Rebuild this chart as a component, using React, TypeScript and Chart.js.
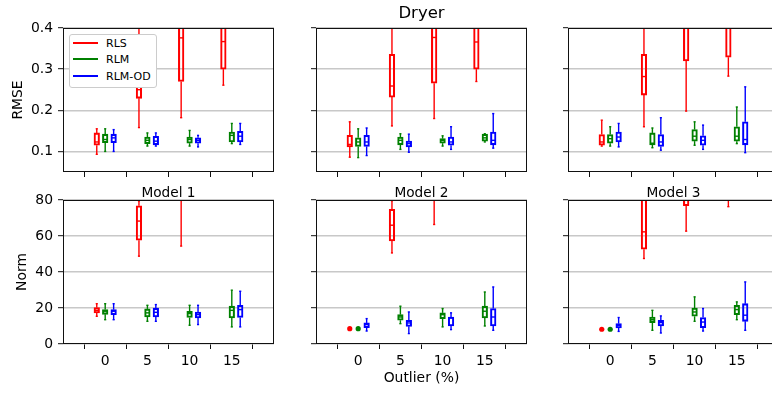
import React, { useEffect, useRef } from 'react';
import { Chart, registerables } from 'chart.js';

Chart.register(...registerables);

// ---------- data ----------
const outliers = [0, 5, 10, 15];
const xTickLabels = ['0', '5', '10', '15'];
const methods = ['RLS', 'RLM', 'RLM-OD'];
const methodColors = ['#ff0000', '#008000', '#0000ff'];
const methodOffsets = [-1, 0, 1];
const modelTitles = ['Model 1', 'Model 2', 'Model 3'];

const rmseTicks = [0.1, 0.2, 0.3, 0.4];
const rmseTickLabels = ['0.1', '0.2', '0.3', '0.4'];
const normTicks = [0, 20, 40, 60, 80];
const normTickLabels = ['0', '20', '40', '60', '80'];

// each entry: [whisker low, Q1, median, Q3, whisker high] for outlier 0, 5, 10, 15
const rmseM1RLS = [[0.093, 0.115, 0.123, 0.145, 0.155], [0.158, 0.229, 0.250, 0.330, 0.470], [0.182, 0.270, 0.376, 0.450, 0.600], [0.261, 0.300, 0.367, 0.430, 0.550]];
const rmseM1RLM = [[0.100, 0.121, 0.129, 0.142, 0.155], [0.113, 0.119, 0.127, 0.135, 0.145], [0.113, 0.120, 0.129, 0.135, 0.151], [0.119, 0.123, 0.139, 0.147, 0.168]];
const rmseM1RLMOD = [[0.100, 0.121, 0.133, 0.142, 0.153], [0.113, 0.116, 0.125, 0.137, 0.145], [0.111, 0.120, 0.127, 0.133, 0.139], [0.117, 0.123, 0.137, 0.149, 0.168]];

const rmseM2RLS = [[0.086, 0.111, 0.117, 0.139, 0.172], [0.162, 0.232, 0.259, 0.336, 0.470], [0.180, 0.266, 0.377, 0.450, 0.600], [0.270, 0.300, 0.366, 0.430, 0.550]];
const rmseM2RLM = [[0.085, 0.112, 0.123, 0.133, 0.155], [0.105, 0.116, 0.127, 0.135, 0.143], [0.113, 0.120, 0.127, 0.131, 0.138], [0.123, 0.125, 0.133, 0.142, 0.143]];
const rmseM2RLMOD = [[0.090, 0.112, 0.123, 0.139, 0.157], [0.098, 0.111, 0.119, 0.125, 0.142], [0.105, 0.115, 0.123, 0.135, 0.160], [0.108, 0.116, 0.127, 0.147, 0.192]];

const rmseM3RLS = [[0.113, 0.115, 0.123, 0.141, 0.176], [0.160, 0.237, 0.282, 0.336, 0.470], [0.198, 0.320, 0.420, 0.500, 0.650], [0.283, 0.329, 0.420, 0.500, 0.620]];
const rmseM3RLM = [[0.113, 0.120, 0.131, 0.141, 0.160], [0.109, 0.116, 0.120, 0.145, 0.157], [0.115, 0.125, 0.137, 0.153, 0.172], [0.119, 0.125, 0.137, 0.160, 0.208]];
const rmseM3RLMOD = [[0.111, 0.123, 0.135, 0.147, 0.168], [0.103, 0.112, 0.123, 0.141, 0.182], [0.105, 0.115, 0.127, 0.138, 0.164], [0.097, 0.116, 0.129, 0.172, 0.257]];

const normM1RLS = [[15.4, 17.3, 18.7, 20.2, 22.4], [48.8, 57.7, 68.3, 76.8, 79.5], [54.4, 95, 110, 130, 160], [90, 110, 130, 150, 180]];
const normM1RLM = [[13.5, 16.5, 18.2, 19.1, 22.4], [12.6, 15.0, 17.3, 19.5, 21.5], [10.4, 14.7, 16.9, 18.2, 21.5], [9.5, 14.5, 18.7, 21.0, 29.9]];
const normM1RLMOD = [[13.5, 16.3, 18.2, 19.1, 22.4], [12.6, 15.0, 17.6, 19.9, 21.9], [10.8, 14.5, 16.3, 17.8, 21.5], [9.5, 14.7, 19.1, 21.5, 29.3]];

const normM2RLS = [[8.5, 8.5, 8.5, 8.5, 8.5], [50.6, 57.3, 66.0, 74.8, 79.6], [66.4, 90, 105, 120, 150], [90, 110, 130, 150, 180]];
const normM2RLM = [[8.5, 8.5, 8.5, 8.5, 8.5], [11.3, 13.2, 15.0, 16.3, 21.0], [9.5, 14.1, 16.3, 17.3, 19.7], [10.0, 14.5, 18.2, 21.0, 28.9]];
const normM2RLMOD = [[7.2, 9.1, 10.8, 11.7, 14.1], [5.8, 9.8, 11.7, 13.2, 17.8], [8.0, 10.0, 14.5, 15.0, 17.3], [7.6, 10.0, 15.0, 19.7, 31.7]];

const normM3RLS = [[8.2, 8.2, 8.2, 8.2, 8.2], [47.5, 52.7, 62.3, 85, 100], [62.7, 76.8, 85, 95, 120], [76.3, 90, 105, 120, 150]];
const normM3RLM = [[8.2, 8.2, 8.2, 8.2, 8.2], [7.6, 11.9, 13.5, 15.0, 18.7], [12.6, 15.4, 17.8, 20.0, 26.2], [13.5, 16.3, 19.1, 21.5, 23.4]];
const normM3RLMOD = [[7.0, 8.9, 10.4, 11.3, 14.7], [6.1, 10.0, 11.9, 13.2, 15.6], [7.2, 9.1, 12.2, 14.7, 19.7], [7.6, 12.6, 16.0, 22.4, 34.5]];

// ---------- layout ----------
const FONT = 'DejaVu Sans';
const PLOT_W = 211;
const PLOT_H = 144;
const COL_LEFTS = [63, 316, 568];
const ROW_TOPS = [28, 200];
const ML = 60;
const MT = 16;
const MR = 8;
const MB = 30;
const LW = 1.4;

type Stats = number[][][];

function makeBoxPlugin(stats: Stats) {
  return {
    id: 'boxWhiskers',
    afterDatasetsDraw(chart: any) {
      const { ctx, chartArea, scales } = chart;
      const x = scales.x;
      const y = scales.y;
      ctx.save();
      ctx.beginPath();
      ctx.rect(chartArea.left, chartArea.top, chartArea.right - chartArea.left, chartArea.bottom - chartArea.top);
      ctx.clip();
      ctx.lineWidth = LW;
      ctx.lineCap = 'butt';
      const unit = Math.abs(x.getPixelForValue(1) - x.getPixelForValue(0));
      const boxHalf = 0.25 * unit;
      const capHalf = 0.125 * unit;
      stats.forEach((ms, mi) => {
        ctx.strokeStyle = methodColors[mi];
        ctx.fillStyle = methodColors[mi];
        ms.forEach((s, oi) => {
          const px = x.getPixelForValue(outliers[oi] + methodOffsets[mi]);
          const [lo, q1, med, q3, hi] = s.map((v) => y.getPixelForValue(v));
          if (s[0] === s[4]) {
            ctx.beginPath();
            ctx.arc(px, med, 2.6, 0, Math.PI * 2);
            ctx.fill();
            return;
          }
          const seg = (x1: number, y1: number, x2: number, y2: number) => {
            ctx.beginPath();
            ctx.moveTo(x1, y1);
            ctx.lineTo(x2, y2);
            ctx.stroke();
          };
          seg(px, q1, px, lo);
          seg(px, q3, px, hi);
          seg(px - capHalf, lo, px + capHalf, lo);
          seg(px - capHalf, hi, px + capHalf, hi);
          seg(px - boxHalf, med, px + boxHalf, med);
        });
      });
      ctx.restore();
    },
    afterDraw(chart: any) {
      const { ctx, chartArea } = chart;
      ctx.save();
      ctx.strokeStyle = '#111';
      ctx.lineWidth = 1;
      ctx.strokeRect(chartArea.left + 0.5, chartArea.top + 0.5, chartArea.right - chartArea.left - 1, chartArea.bottom - chartArea.top - 1);
      ctx.restore();
    },
  };
}

interface PanelProps {
  stats: Stats;
  yMin: number;
  yMax: number;
  yTicks: number[];
  yTickLabels: string[];
  showY: boolean;
  showX: boolean;
  left: number;
  top: number;
}

function Panel(p: PanelProps) {
  const ref = useRef<HTMLCanvasElement | null>(null);
  const W = ML + PLOT_W + MR;
  const H = MT + PLOT_H + MB;
  useEffect(() => {
    if (!ref.current) return;
    const font = { family: FONT, size: 13.9 };
    const chart = new Chart(ref.current, {
      type: 'bar',
      data: {
        datasets: methods.map((m, mi) => ({
          label: m,
          data: outliers.map((o, oi) => ({ x: o + methodOffsets[mi], y: [p.stats[mi][oi][1], p.stats[mi][oi][3]] })),
          backgroundColor: 'rgba(0,0,0,0)',
          borderColor: methodColors[mi],
          borderWidth: LW,
          borderSkipped: false,
          barThickness: 5.6,
          grouped: false,
          clip: 0,
        })),
      } as any,
      options: {
        responsive: false,
        animation: false,
        devicePixelRatio: 1,
        events: [],
        layout: { padding: { left: 0, top: MT, right: MR, bottom: 0 } },
        plugins: { legend: { display: false }, tooltip: { enabled: false }, title: { display: false } },
        scales: {
          x: {
            type: 'linear',
            min: -5,
            max: 20,
            offset: false,
            afterBuildTicks: (s: any) => {
              s.ticks = outliers.map((v) => ({ value: v }));
            },
            afterFit: (s: any) => {
              s.height = MB;
            },
            ticks: {
              display: p.showX,
              autoSkip: false,
              maxRotation: 0,
              padding: 4,
              color: '#000',
              font,
              callback: (_v: any, i: number) => xTickLabels[i],
            },
            grid: { drawOnChartArea: false, drawTicks: true, tickLength: 5, tickColor: '#111', tickWidth: 1 },
            border: { display: false },
          },
          y: {
            type: 'linear',
            min: p.yMin,
            max: p.yMax,
            afterBuildTicks: (s: any) => {
              s.ticks = p.yTicks.map((v) => ({ value: v }));
            },
            afterFit: (s: any) => {
              s.width = ML;
            },
            ticks: {
              display: p.showY,
              padding: 5,
              color: '#000',
              font,
              callback: (_v: any, i: number) => p.yTickLabels[i],
            },
            grid: { color: '#c8c8c8', lineWidth: 1.4, drawTicks: true, tickLength: 5, tickColor: '#111', tickWidth: 1 },
            border: { display: false },
          },
        },
      } as any,
      plugins: [makeBoxPlugin(p.stats)],
    });
    return () => chart.destroy();
  }, []);
  return (
    <canvas
      ref={ref}
      width={W}
      height={H}
      style={{ position: 'absolute', left: p.left - ML, top: p.top - MT, width: W, height: H }}
    />
  );
}

function Label(props: { x: number; y: number; size: number; text: string; rotate?: boolean }) {
  return (
    <div
      style={{
        position: 'absolute',
        left: props.x,
        top: props.y,
        transform: `translate(-50%, -50%)${props.rotate ? ' rotate(-90deg)' : ''}`,
        fontFamily: FONT,
        fontSize: props.size,
        lineHeight: 1,
        whiteSpace: 'nowrap',
        color: '#000',
      }}
    >
      {props.text}
    </div>
  );
}

export default function App() {
  const rmse: Stats[] = [
    [rmseM1RLS, rmseM1RLM, rmseM1RLMOD],
    [rmseM2RLS, rmseM2RLM, rmseM2RLMOD],
    [rmseM3RLS, rmseM3RLM, rmseM3RLMOD],
  ];
  const norm: Stats[] = [
    [normM1RLS, normM1RLM, normM1RLMOD],
    [normM2RLS, normM2RLM, normM2RLMOD],
    [normM3RLS, normM3RLM, normM3RLMOD],
  ];
  const legendRows = [43, 59, 76];
  return (
    <div style={{ position: 'fixed', left: 0, top: 0, width: 772, height: 396, overflow: 'hidden', background: '#fff' }}>
      {rmse.map((st, ci) => (
        <Panel key={'r' + ci} stats={st} yMin={0.05} yMax={0.4} yTicks={rmseTicks} yTickLabels={rmseTickLabels}
          showY={ci === 0} showX={false} left={COL_LEFTS[ci]} top={ROW_TOPS[0]} />
      ))}
      {norm.map((st, ci) => (
        <Panel key={'n' + ci} stats={st} yMin={0} yMax={80} yTicks={normTicks} yTickLabels={normTickLabels}
          showY={ci === 0} showX={true} left={COL_LEFTS[ci]} top={ROW_TOPS[1]} />
      ))}
      <Label x={COL_LEFTS[1] + PLOT_W / 2} y={13.3} size={16.5} text="Dryer" />
      {modelTitles.map((t, i) => (
        <Label key={t} x={COL_LEFTS[i] + PLOT_W / 2} y={193.3} size={13.7} text={t} />
      ))}
      <Label x={COL_LEFTS[1] + PLOT_W / 2} y={378.3} size={13.9} text="Outlier (%)" />
      <Label x={18.3} y={99.5} size={13.9} text="RMSE" rotate />
      <Label x={22} y={271.7} size={13.9} text="Norm" rotate />
      <div
        style={{
          position: 'absolute', left: 69, top: 34, width: 88, height: 54, boxSizing: 'border-box',
          border: '1px solid #cccccc', borderRadius: 3, background: '#fff',
        }}
      >
        {methods.map((m, i) => (
          <React.Fragment key={m}>
            <div style={{ position: 'absolute', left: 3, top: legendRows[i] - 35 - 1, width: 25, height: 2, background: methodColors[i] }} />
            <span style={{ position: 'absolute', left: 36, top: legendRows[i] - 35, transform: 'translateY(-50%)', fontFamily: FONT, fontSize: 11, lineHeight: 1, color: '#000', whiteSpace: 'nowrap' }}>{m}</span>
          </React.Fragment>
        ))}
      </div>
    </div>
  );
}
